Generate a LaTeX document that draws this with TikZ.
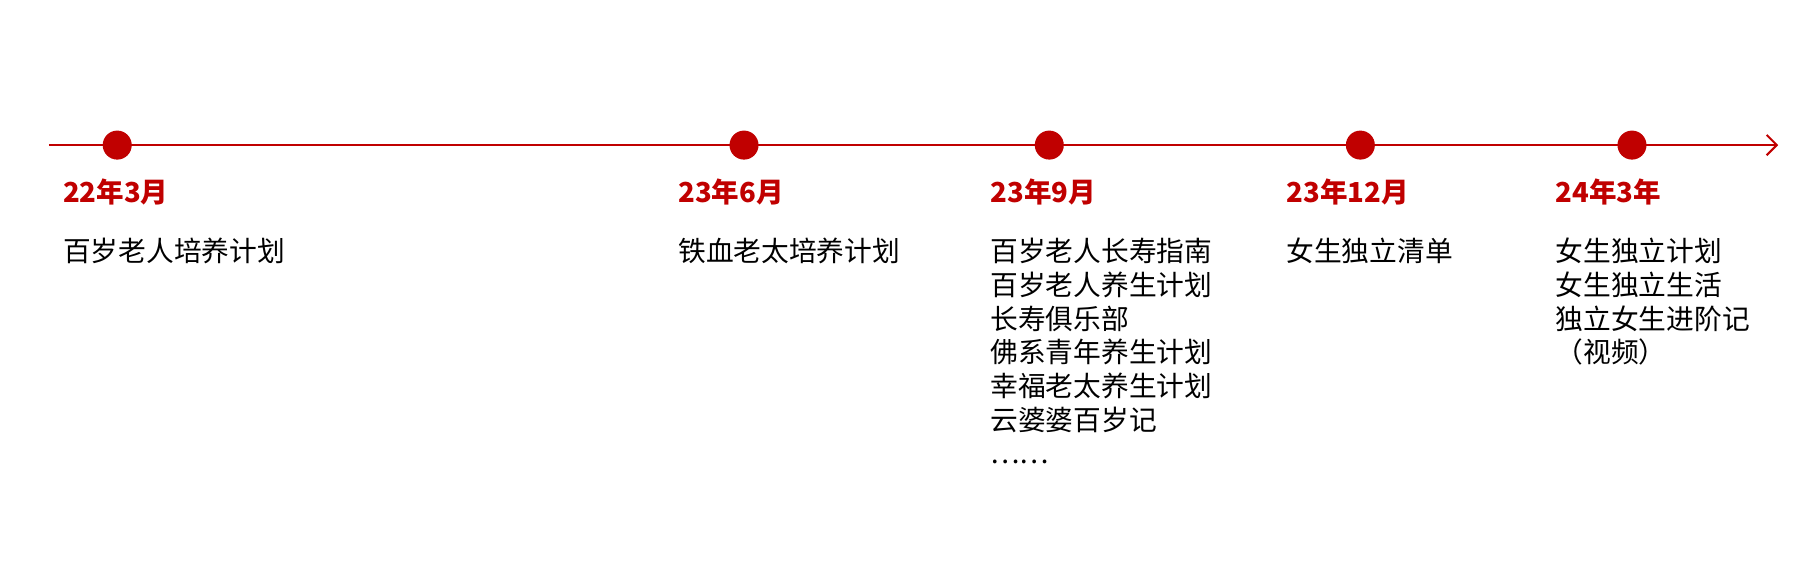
\documentclass[tikz,border=0pt]{standalone}
\usetikzlibrary{arrows.meta}
\usepackage{fontspec}
\setmainfont{Liberation Sans}
\newfontfamily\cjk{Noto Sans CJK SC}
\definecolor{tred}{HTML}{C00000}
\begin{document}
\begin{tikzpicture}[x=0.02cm,y=-0.02cm,
  dot/.style={circle,fill=tred,inner sep=0pt,minimum size=0.5cm},
  datelbl/.style={anchor=west,inner sep=0pt,text=tred,font=\fontsize{13.5}{16}\selectfont\bfseries\cjk},
  items/.style={anchor=north west,inner sep=0pt,align=left,font=\fontsize{13.6}{16.5}\selectfont\cjk}]
\useasboundingbox (0,0) rectangle (1568,488);
\coordinate (s) at (42,125);
\coordinate (e) at (1532,125);
\draw[tred,line width=1pt,-{Straight Barb[length=5pt,width=10pt]}] (s) -- (e);
\foreach \n/\x in {a/101,b/641,c/904,d/1172,f/1406}{\node[dot] (d\n) at (\x,125) {};}
\node[datelbl] (ta) at (54,165) {22年3月};
\node[datelbl] (tb) at (584,165) {23年6月};
\node[datelbl] (tc) at (853,165) {23年9月};
\node[datelbl] (td) at (1108,165) {23年12月};
\node[datelbl] (tf) at (1340,165) {24年3年};
\node[items] (ia) at (54,205) {百岁老人培养计划};
\node[items] (ib) at (584,205) {铁血老太培养计划};
\node[items] (ic) at (853,205) {百岁老人长寿指南\\百岁老人养生计划\\长寿俱乐部\\佛系青年养生计划\\幸福老太养生计划\\云婆婆百岁记\\……};
\node[items] (id) at (1108,205) {女生独立清单};
\node[items] (if) at (1340,205) {女生独立计划\\女生独立生活\\独立女生进阶记\\（视频）};
\end{tikzpicture}
\end{document}
